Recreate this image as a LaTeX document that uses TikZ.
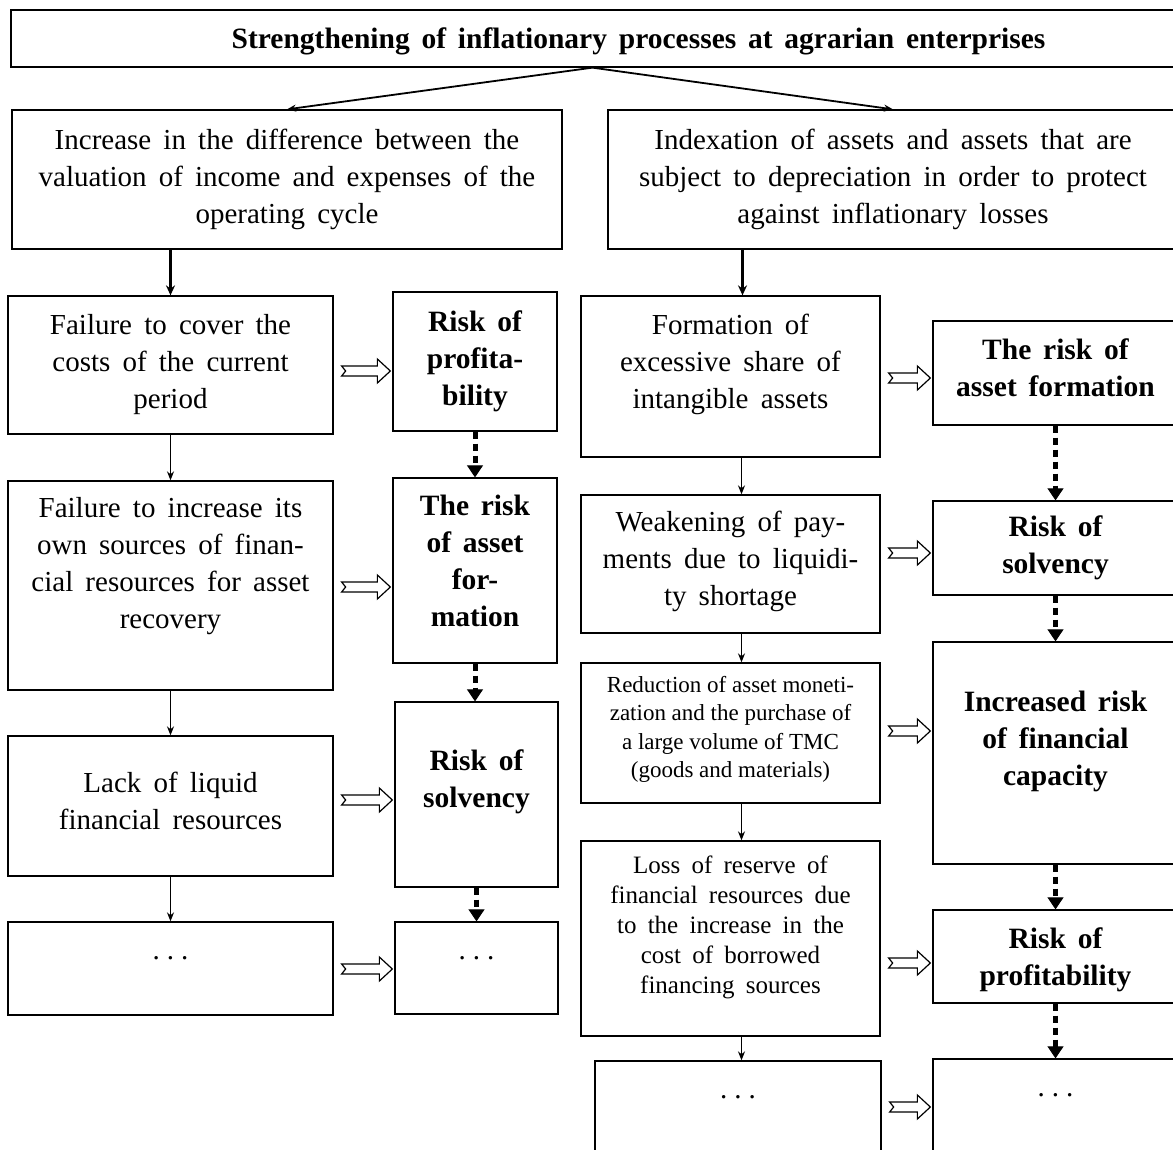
\documentclass[tikz,border=0pt]{standalone}
\usepackage{fontspec}
\setmainfont{Liberation Serif}
\usetikzlibrary{arrows.meta, calc}

\newcommand{\padbelow}[1]{\rule[-#1pt]{0pt}{#1pt}}
\newcommand{\padabove}[1]{\rule{0pt}{#1pt}}
\newcommand{\moredots}{.\hspace{7pt}.\hspace{7pt}.}
\newcommand{\hollowarrow}[3]{%
  \draw[hollow] let \p1=(#1.east), \p2=(#2.west), \p3=(0,#3) in
    (\x1+8pt,\y3+5pt) -- (\x2-15pt,\y3+5pt) -- (\x2-15pt,\y3+12pt) -- (\x2-2pt,\y3)
    -- (\x2-15pt,\y3-12pt) -- (\x2-15pt,\y3-5pt) -- (\x1+8pt,\y3-5pt) -- (\x1+12pt,\y3) -- cycle;}

\begin{document}
\begin{tikzpicture}[x=1pt, y=-1pt,
    plainbox/.style={draw, line width=1.3pt, inner sep=0pt, align=center,
        font={\fontsize{29}{37}\selectfont\spaceskip=.42em\relax}},
    riskbox/.style={plainbox, font={\fontsize{29.5}{37}\selectfont\bfseries\spaceskip=.4em\relax}},
    smallbox/.style={plainbox, font=\fontsize{23}{28.5}\selectfont},
    midbox/.style={plainbox, font={\fontsize{25}{30}\selectfont\spaceskip=.45em\relax}},
    toparrow/.style={line width=1.8pt, -{Stealth[length=9pt, width=7pt]}},
    thickarrow/.style={line width=2.6pt, -{Stealth[length=10pt, width=9pt]}},
    thinarrow/.style={line width=1.3pt, -{Stealth[length=9pt, width=7pt]}},
    dotarrow/.style={line width=5pt, dash pattern=on 7pt off 5pt,
        -{Triangle[length=12pt, width=16pt, line width=1pt]}},
    hollow/.style={draw, fill=white, line width=1.2pt, line join=miter}]

    \path[use as bounding box, clip] (0,0) rectangle (1173,1149);

    % Top
    \node[riskbox, minimum width=1255pt, minimum height=57pt] (top) at (638.5,38.5)
        {\padabove{26}Strengthening of inflationary processes at agrarian enterprises};
    \node[plainbox, minimum width=550pt, minimum height=139pt] (l1) at (287,179.5)
        {Increase in the difference between the\\valuation of income and expenses of the\\operating cycle};
    \node[plainbox, minimum width=570pt, minimum height=139pt] (r1) at (893,179.5)
        {Indexation of assets and assets that are\\subject to depreciation in order to protect\\against inflationary losses};

    % Left branch
    \node[plainbox, minimum width=325pt, minimum height=138pt] (a1) at (170.5,365)
        {Failure to cover the\\costs of the current\\period};
    \node[plainbox, minimum width=325pt, minimum height=209pt] (a2) at (170.5,585.5)
        {Failure to increase its\\own sources of finan-\\cial resources for asset\\recovery\padbelow{45}};
    \node[plainbox, minimum width=325pt, minimum height=140pt] (a3) at (170.5,806)
        {Lack of liquid\\financial resources\padbelow{10}};
    \node[plainbox, minimum width=325pt, minimum height=93pt] (a4) at (170.5,968.5)
        {\moredots\padbelow{21}};

    \node[riskbox, minimum width=164pt, minimum height=139pt] (b1) at (475,361.5)
        {Risk of\\profita-\\bility};
    \node[riskbox, minimum width=164pt, minimum height=185pt] (b2) at (475,570.5)
        {The risk\\of asset\\for-\\mation\padbelow{19}};
    \node[riskbox, minimum width=163pt, minimum height=185pt] (b3) at (476.5,794.5)
        {Risk of\\solvency\padbelow{31}};
    \node[plainbox, minimum width=163pt, minimum height=92pt] (b4) at (476.5,968)
        {\moredots\padbelow{20}};

    % Right branch
    \node[plainbox, minimum width=299pt, minimum height=161pt] (c1) at (730.5,376.5)
        {Formation of\\excessive share of\\intangible assets\padbelow{30}};
    \node[plainbox, minimum width=299pt, minimum height=138pt] (c2) at (730.5,564)
        {Weakening of pay-\\ments due to liquidi-\\ty shortage\padbelow{12}};
    \node[smallbox, minimum width=299pt, minimum height=140pt] (c3) at (730.5,733)
        {Reduction of asset moneti-\\zation and the purchase of\\a large volume of TMC\\(goods and materials)\padbelow{12}};
    \node[midbox, minimum width=299pt, minimum height=195pt] (c4) at (730.5,938.5)
        {Loss of reserve of\\financial resources due\\to the increase in the\\cost of borrowed\\financing sources\padbelow{27}};
    \node[plainbox, minimum width=286pt, minimum height=109pt] (c5) at (738,1115.5)
        {\moredots\padbelow{37}};

    \node[riskbox, minimum width=245pt, minimum height=104pt] (d1) at (1055.5,373)
        {The risk of\\asset formation\padbelow{10}};
    \node[riskbox, minimum width=245pt, minimum height=94pt] (d2) at (1055.5,548)
        {Risk of\\solvency};
    \node[riskbox, minimum width=245pt, minimum height=222pt] (d3) at (1055.5,753)
        {Increased risk\\of financial\\capacity\padbelow{30}};
    \node[riskbox, minimum width=245pt, minimum height=93pt] (d4) at (1055.5,956.5)
        {\padabove{28}Risk of\\profitability};
    \node[plainbox, minimum width=245pt, minimum height=111pt] (d5) at (1055.5,1114.5)
        {\moredots\padbelow{39}};

    % Connectors
    \draw[toparrow] ([xshift=-46pt]top.south) -- (l1.north);
    \draw[toparrow] ([xshift=-46pt]top.south) -- (r1.north);
    \draw[thickarrow] (a1.north |- l1.south) -- (a1.north);
    \draw[thickarrow] ([xshift=12pt]c1.north |- r1.south) -- ([xshift=12pt]c1.north);

    \draw[thinarrow] (a1) -- (a2);
    \draw[thinarrow] (a2) -- (a3);
    \draw[thinarrow] (a3) -- (a4);
    \draw[thinarrow] ([xshift=11pt]c1.south) -- ([xshift=11pt]c1.south |- c2.north);
    \draw[thinarrow] ([xshift=11pt]c2.south) -- ([xshift=11pt]c2.south |- c3.north);
    \draw[thinarrow] ([xshift=11pt]c3.south) -- ([xshift=11pt]c3.south |- c4.north);
    \draw[thinarrow] ([xshift=11pt]c4.south) -- ([xshift=11pt]c4.south |- c5.north);

    \draw[dotarrow] (b1.south) -- (b1.south |- b2.north);
    \draw[dotarrow] (b2.south) -- (b2.south |- b3.north);
    \draw[dotarrow] (b3.south) -- (b3.south |- b4.north);
    \draw[dotarrow] (d1) -- (d2);
    \draw[dotarrow] (d2) -- (d3);
    \draw[dotarrow] (d3) -- (d4);
    \draw[dotarrow] (d4) -- (d5);

    % Hollow arrows to the risks
    \hollowarrow{a1}{b1}{371}
    \hollowarrow{a2}{b2}{587}
    \hollowarrow{a3}{b3}{800}
    \hollowarrow{a4}{b4}{969}
    \hollowarrow{c1}{d1}{378}
    \hollowarrow{c2}{d2}{553}
    \hollowarrow{c3}{d3}{731}
    \hollowarrow{c4}{d4}{963}
    \hollowarrow{c5}{d5}{1107}
\end{tikzpicture}
\end{document}
